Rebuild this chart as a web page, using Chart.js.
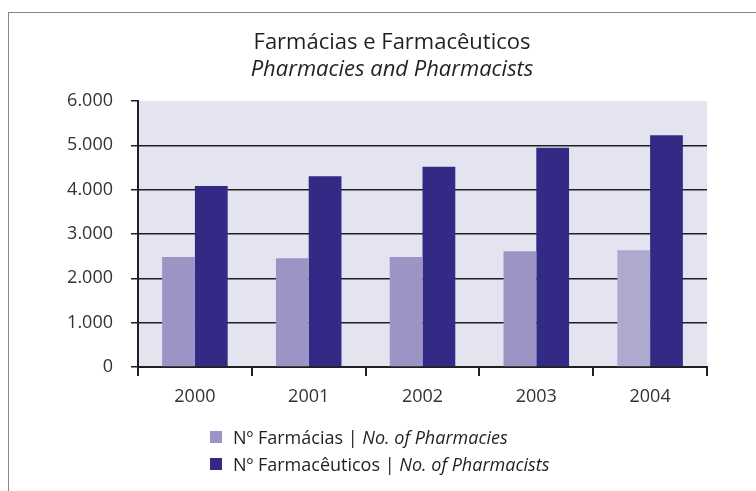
<!DOCTYPE html>
<html>
<head>
<meta charset="utf-8">
<script src="https://cdn.jsdelivr.net/npm/chart.js@4.4.1/dist/chart.umd.min.js"></script>
<style>
  body { margin: 0; background: #fff; }
  #wrap { position: relative; width: 756px; height: 491px; }
  #frame { position: absolute; left: 8px; top: 12px; right: 0; bottom: 0;
           border-top: 1.5px solid #8a8a8a; border-left: 1.5px solid #8a8a8a; }
  canvas { position: absolute; left: 0; top: 0; }
</style>
</head>
<body>
<div id="wrap">
  <div id="frame"></div>
  <canvas id="chart" width="756" height="491"></canvas>
</div>
<script>
const years = ["2000", "2001", "2002", "2003", "2004"];
const pharmacies = [2480, 2455, 2480, 2610, 2635];
const pharmacists = [4080, 4305, 4515, 4945, 5230];
const yTickLabels = ["0", "1.000", "2.000", "3.000", "4.000", "5.000", "6.000"];
const titlePt = "Farmácias e Farmacêuticos";
const titleEn = "Pharmacies and Pharmacists";
const legendPt = ["Nº Farmácias", "Nº Farmacêuticos"];
const legendEn = ["No. of Pharmacies", "No. of Pharmacists"];

const FONT = "'Open Sans', 'Noto Sans', sans-serif";
const INK = "#231f20";
const lightColor = ["#9b94c5", "#9b94c5", "#9b94c5", "#9b94c5", "#aea9cf"];
const darkColor = "#322a84";

// lavender plot background + two-line title
const plotBg = {
  id: "plotBg",
  beforeDraw(chart) {
    const { ctx, chartArea: a } = chart;
    ctx.save();
    ctx.fillStyle = "#e4e4f0";
    ctx.fillRect(a.left, a.top, a.right - a.left, a.bottom - a.top);
    ctx.fillStyle = INK;
    ctx.textAlign = "center";
    ctx.textBaseline = "middle";
    ctx.font = "22px " + FONT;
    ctx.fillText(titlePt, 392, 43);
    ctx.font = "italic 22px " + FONT;
    ctx.fillText(titleEn, 392, 70);
    ctx.restore();
  }
};

// two-line legend with italic english part
const splitLegend = {
  id: "splitLegend",
  afterDraw(chart) {
    const { ctx } = chart;
    const x0 = 210, rows = [431, 458];
    ctx.save();
    chart.data.datasets.forEach((ds, i) => {
      const top = rows[i];
      ctx.fillStyle = i === 0 ? lightColor[0] : darkColor;
      ctx.fillRect(x0, top, 12, 12);
      ctx.fillStyle = INK;
      ctx.textBaseline = "alphabetic";
      ctx.font = "18px " + FONT;
      const first = legendPt[i] + " | ";
      ctx.fillText(first, x0 + 23, top + 13);
      const w = ctx.measureText(first).width;
      ctx.font = "italic 18px " + FONT;
      ctx.fillText(legendEn[i], x0 + 23 + w, top + 13);
    });
    ctx.restore();
  }
};

new Chart(document.getElementById("chart").getContext("2d"), {
  type: "bar",
  data: {
    labels: years,
    datasets: [
      {
        label: legendPt[0] + " | " + legendEn[0],
        data: pharmacies,
        backgroundColor: lightColor,
        barPercentage: 1,
        categoryPercentage: 0.576
      },
      {
        label: legendPt[1] + " | " + legendEn[1],
        data: pharmacists,
        backgroundColor: darkColor,
        barPercentage: 1,
        categoryPercentage: 0.576
      }
    ]
  },
  options: {
    responsive: false,
    animation: false,
    layout: { padding: { left: 0, right: 49, top: 101, bottom: 0 } },
    plugins: {
      legend: { display: false },
      tooltip: { enabled: false }
    },
    scales: {
      x: {
        afterFit: (s) => { s.height = 124; },
        border: { color: INK, width: 2 },
        grid: { offset: true, drawOnChartArea: false, tickLength: 9, color: INK, lineWidth: 2 },
        ticks: { color: "#333", padding: 10, font: { family: FONT, size: 18 } }
      },
      y: {
        min: 0,
        max: 6000,
        afterFit: (s) => { s.width = 138; },
        border: { color: INK, width: 2 },
        grid: {
          tickLength: 7,
          lineWidth: 1.5,
          tickColor: INK,
          color: (c) => (c.tick && (c.tick.value === 6000 || c.tick.value === 0)) ? "rgba(0,0,0,0)" : INK
        },
        ticks: {
          stepSize: 1000,
          padding: 18,
          color: "#333",
          font: { family: FONT, size: 18 },
          callback: (v, i) => yTickLabels[i]
        }
      }
    }
  },
  plugins: [plotBg, splitLegend]
});
</script>
</body>
</html>
